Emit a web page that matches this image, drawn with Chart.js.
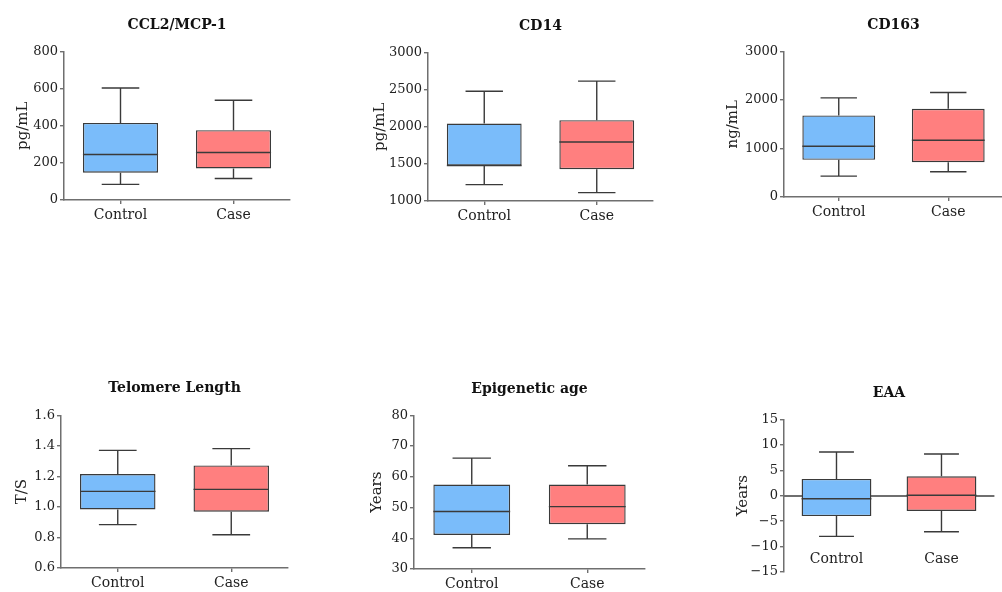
<!DOCTYPE html>
<html>
<head>
<meta charset="utf-8">
<script src="https://cdn.jsdelivr.net/npm/chart.js@4"></script>
<style>
  html, body { margin: 0; padding: 0; background: #fff; overflow: hidden; }
  #wrap { position: relative; width: 1002px; height: 592px; }
  #wrap canvas { position: absolute; }
</style>
</head>
<body>
<div id="wrap"></div>
<script>
// groups on the x axis
const groups = ['Control', 'Case'];

// each stat array: [min, Q1, median, Q3, max]
const ccl2Control = [84, 147, 245, 415, 603];
const ccl2Case = [116, 170, 256, 376, 537];
const ccl2Ticks = [0, 200, 400, 600, 800];

const cd14Control = [1221, 1477, 1477, 2043, 2478];
const cd14Case = [1113, 1427, 1795, 2088, 2613];
const cd14Ticks = [1000, 1500, 2000, 2500, 3000];

const cd163Control = [430, 765, 1046, 1681, 2042];
const cd163Case = [519, 718, 1169, 1817, 2153];
const cd163Ticks = [0, 1000, 2000, 3000];

const telomereControl = [0.884, 0.984, 1.102, 1.216, 1.371];
const telomereCase = [0.818, 0.969, 1.115, 1.272, 1.382];
const telomereTicks = [0.6, 0.8, 1.0, 1.2, 1.4, 1.6];

const epiControl = [36.9, 41.1, 48.7, 57.5, 66.1];
const epiCase = [39.8, 44.6, 50.3, 57.5, 63.6];
const epiTicks = [30, 40, 50, 60, 70, 80];

const eaaControl = [-8.0, -4.0, -0.6, 3.3, 8.6];
const eaaCase = [-7.1, -3.0, 0.1, 3.8, 8.2];
const eaaTicks = [-15, -10, -5, 0, 5, 10, 15];

const FONT = "'DejaVu Serif', serif";
const AXIS = '#6f6f6f';
const INK = '#3a3a3a';

// where each panel sits on the page
const panels = [
  { title: 'CCL2/MCP-1', unit: 'pg/mL', stats: [ccl2Control, ccl2Case], ticks: ccl2Ticks,
    axisX: 64, top: 51, bottom: 200, right: 290, yTitleX: 23, titleY: 25, labelY: 215 },
  { title: 'CD14', unit: 'pg/mL', stats: [cd14Control, cd14Case], ticks: cd14Ticks,
    axisX: 428, top: 52, bottom: 201, right: 653, yTitleX: 380, titleY: 26, labelY: 216 },
  { title: 'CD163', unit: 'ng/mL', stats: [cd163Control, cd163Case], ticks: cd163Ticks,
    axisX: 784, top: 51, bottom: 197, right: 1003, yTitleX: 733, titleY: 25, labelY: 212 },
  { title: 'Telomere Length', unit: 'T/S', stats: [telomereControl, telomereCase], ticks: telomereTicks,
    axisX: 61, top: 415, bottom: 568, right: 288, yTitleX: 22, titleY: 388, labelY: 583, fixed: 1 },
  { title: 'Epigenetic age', unit: 'Years', stats: [epiControl, epiCase], ticks: epiTicks,
    axisX: 414, top: 415, bottom: 569, right: 645, yTitleX: 377, titleY: 389, labelY: 584 },
  { title: 'EAA', unit: 'Years', stats: [eaaControl, eaaCase], ticks: eaaTicks,
    axisX: 784, top: 419, bottom: 572, right: 1011, yTitleX: 743, titleY: 393, labelY: 559, zeroAxis: true }
];

// whiskers, caps and median drawn on top of the floating bars
const boxWhiskers = {
  id: 'boxWhiskers',
  afterDatasetsDraw(chart) {
    const ctx = chart.ctx;
    const y = chart.scales.y;
    const meta = chart.getDatasetMeta(0);
    const stats = chart.data.datasets[0].stats;
    ctx.save();
    ctx.strokeStyle = INK;
    ctx.lineWidth = 1.4;
    meta.data.forEach((bar, i) => {
      const [min, q1, med, q3, max] = stats[i];
      const x = bar.x;
      const half = bar.width / 2;
      const cap = half / 2;
      ctx.beginPath();
      ctx.moveTo(x, y.getPixelForValue(q3));
      ctx.lineTo(x, y.getPixelForValue(max));
      ctx.moveTo(x - cap, y.getPixelForValue(max));
      ctx.lineTo(x + cap, y.getPixelForValue(max));
      ctx.moveTo(x, y.getPixelForValue(q1));
      ctx.lineTo(x, y.getPixelForValue(min));
      ctx.moveTo(x - cap, y.getPixelForValue(min));
      ctx.lineTo(x + cap, y.getPixelForValue(min));
      ctx.moveTo(x - half, y.getPixelForValue(med));
      ctx.lineTo(x + half, y.getPixelForValue(med));
      ctx.stroke();
    });
    ctx.restore();
  }
};

function buildPanel(p) {
  const x0 = p.yTitleX - 9;
  const y0 = p.titleY - 8.4;
  const yW = p.axisX - x0;
  const width = Math.round(p.right - x0 + 4);
  let height, xH, tickPad;
  if (p.zeroAxis) {
    height = Math.round(p.bottom - y0 + 10);
    tickPad = 51;
  } else {
    xH = p.labelY - p.bottom + 12;
    height = Math.round(p.bottom - y0 + xH);
    tickPad = p.labelY - p.bottom - 4 - 8.4;
  }

  const canvas = document.createElement('canvas');
  canvas.width = width;
  canvas.height = height;
  canvas.style.left = x0 + 'px';
  canvas.style.top = y0 + 'px';
  document.getElementById('wrap').appendChild(canvas);

  const ticks = p.ticks;
  new Chart(canvas, {
    type: 'bar',
    data: {
      labels: groups,
      datasets: [{
        data: p.stats.map(s => [s[1], s[3]]),
        stats: p.stats,
        backgroundColor: ['#7abcfa', '#ff7f7f'],
        borderColor: INK,
        borderWidth: 1.4,
        borderSkipped: false,
        categoryPercentage: 1,
        barPercentage: 0.665
      }]
    },
    options: {
      responsive: false,
      animation: false,
      layout: { padding: { left: 0, top: 0, right: 4, bottom: p.zeroAxis ? 10 : 0 } },
      plugins: {
        legend: { display: false },
        tooltip: { enabled: false },
        title: {
          display: true,
          text: p.title,
          fullSize: false,
          color: '#111',
          font: { family: FONT, size: 14, weight: 'bold' },
          padding: { top: 0, bottom: p.top - p.titleY - 8.4 }
        }
      },
      scales: {
        x: {
          position: p.zeroAxis ? { y: 0 } : 'bottom',
          offset: true,
          grid: { display: true, drawOnChartArea: false, offset: false, tickLength: 4, color: AXIS, lineWidth: 1.4 },
          border: { display: true, color: AXIS, width: p.zeroAxis ? 2 : 1.5 },
          ticks: { color: '#222', padding: tickPad, font: { family: FONT, size: 14 } },
          afterFit: s => { if (!p.zeroAxis) s.height = xH; }
        },
        y: {
          min: ticks[0],
          max: ticks[ticks.length - 1],
          grid: { display: true, drawOnChartArea: false, tickLength: 4, color: AXIS, lineWidth: 1.4 },
          border: { display: true, color: AXIS, width: 1.5 },
          ticks: {
            color: '#222',
            padding: 2,
            font: { family: FONT, size: 13 },
            callback: v => {
              if (p.fixed) return v.toFixed(p.fixed);
              return v < 0 ? '\u2212' + Math.abs(v) : String(v);
            }
          },
          afterBuildTicks: s => { s.ticks = ticks.map(v => ({ value: v })); },
          afterFit: s => { s.width = yW; },
          title: {
            display: true,
            text: p.unit,
            color: '#222',
            padding: 0,
            font: { family: FONT, size: 15 }
          }
        }
      }
    },
    plugins: [boxWhiskers]
  });
}

panels.forEach(buildPanel);
</script>
</body>
</html>
